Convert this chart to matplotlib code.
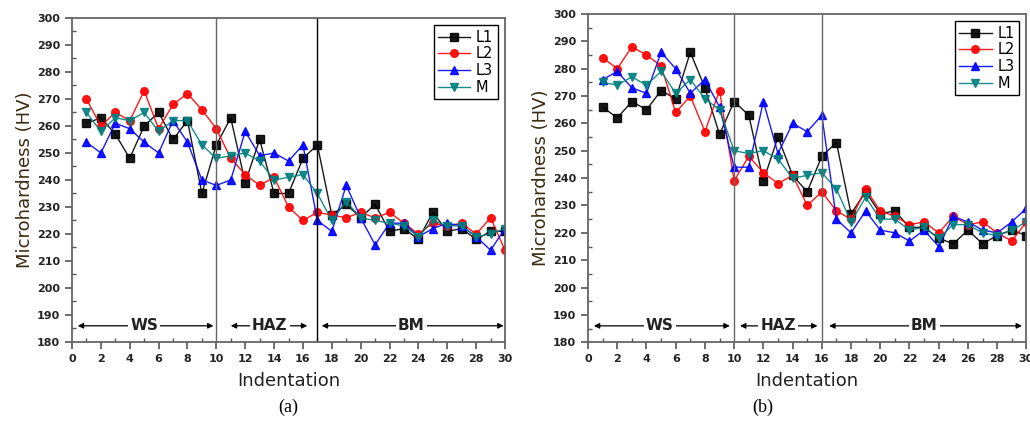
import numpy as np
import matplotlib
matplotlib.use('Agg')
import matplotlib.pyplot as plt
from matplotlib.ticker import MultipleLocator

# indentation positions
x = np.arange(1, 31)

# panel (a)
a_L1 = [261, 263, 257, 248, 260, 265, 255, 262, 235, 253, 263, 239, 255, 235, 235,
        248, 253, 227, 231, 226, 231, 221, 222, 218, 228, 221, 222, 218, 221, 221]
a_L2 = [270, 260, 265, 262, 273, 259, 268, 272, 266, 259, 248, 242, 238, 241, 230,
        225, 228, 227, 226, 228, 226, 228, 224, 220, 224, 223, 224, 220, 226, 214]
a_L3 = [254, 250, 261, 259, 254, 250, 262, 254, 240, 238, 240, 258, 249, 250, 247,
        253, 225, 221, 238, 226, 216, 224, 224, 219, 222, 224, 223, 219, 214, 222]
a_M = [265, 258, 263, 262, 265, 258, 262, 262, 253, 248, 249, 250, 247, 240, 241,
       242, 235, 225, 232, 226, 225, 224, 223, 219, 225, 223, 223, 219, 220, 222]

# panel (b)
b_L1 = [266, 262, 268, 265, 272, 269, 286, 273, 256, 268, 263, 239, 255, 241, 235,
        248, 253, 227, 235, 227, 228, 222, 222, 218, 216, 221, 216, 219, 221, 219]
b_L2 = [284, 280, 288, 285, 281, 264, 270, 257, 272, 239, 248, 242, 238, 241, 230,
        235, 228, 225, 236, 228, 226, 223, 224, 220, 226, 223, 224, 220, 217, 224]
b_L3 = [276, 279, 273, 271, 286, 280, 271, 276, 266, 244, 244, 268, 249, 260, 257,
        263, 225, 220, 228, 221, 220, 217, 221, 215, 226, 224, 221, 220, 224, 229]
b_M = [275, 274, 277, 274, 279, 271, 276, 269, 265, 250, 249, 250, 247, 240, 241,
       242, 236, 224, 233, 225, 225, 221, 222, 218, 223, 223, 220, 219, 221, 224]

labels = ['L1', 'L2', 'L3', 'M']
colors = ['black', 'red', 'blue', '#008080']
markers = ['s', 'o', '^', 'v']

txt = '#222222'

fig = plt.figure(figsize=(10.3, 4.22), dpi=100)
ax_a = fig.add_axes([0.0699, 0.1896, 0.4204, 0.7678])
ax_b = fig.add_axes([0.5709, 0.1889, 0.4256, 0.778])


def draw(ax, series, bounds, zones):
    for y, lab, c, m in zip(series, labels, colors, markers):
        ax.plot(x, y, color=c, marker=m, markersize=5.5, linewidth=1.0, label=lab,
                alpha=0.9)
    for b, col in bounds:
        ax.axvline(b, color=col, linewidth=1.0)
    ax.set_xlim(0, 30)
    ax.set_ylim(180, 300)
    ax.xaxis.set_major_locator(MultipleLocator(2))
    ax.xaxis.set_minor_locator(MultipleLocator(1))
    ax.yaxis.set_major_locator(MultipleLocator(10))
    ax.yaxis.set_minor_locator(MultipleLocator(5))
    ax.tick_params(which='major', direction='out', length=5, width=1.2, color='#555555',
                   labelsize=8, labelcolor=txt)
    ax.tick_params(which='minor', direction='in', length=3, width=1.0, color='#555555')
    for t in ax.get_xticklabels() + ax.get_yticklabels():
        t.set_fontweight('bold')
    for s in ax.spines.values():
        s.set_color('#666666')
        s.set_linewidth(1.3)
    ax.set_xlabel('Indentation', fontsize=13, color=txt, labelpad=6)
    ax.set_ylabel('Microhardness (HV)', fontsize=13, color='#3a2a10', labelpad=2)
    for x0, x1, xt, name in zones:
        ax.annotate('', xy=(x0, 186), xytext=(x1, 186),
                    arrowprops=dict(arrowstyle='<|-|>', color='black', lw=0.9,
                                    mutation_scale=8, shrinkA=0, shrinkB=0))
        ax.text(xt, 186, name, ha='center', va='center', fontsize=11,
                fontweight='bold', color=txt,
                bbox=dict(facecolor='white', edgecolor='none', pad=1.5))
    leg = ax.legend(loc='upper right', fontsize=10.5, handlelength=2.2,
                    labelspacing=0.12, borderpad=0.3, handletextpad=0.4,
                    fancybox=False, framealpha=1, borderaxespad=0.5)
    leg.get_frame().set_edgecolor('black')
    leg.get_frame().set_linewidth(1.0)


draw(ax_a, [a_L1, a_L2, a_L3, a_M], [(10, '#666666'), (17, 'black')],
     [(0.4, 9.8, 5.0, 'WS'), (11.0, 16.3, 13.7, 'HAZ'), (17.3, 29.9, 23.5, 'BM')])
draw(ax_b, [b_L1, b_L2, b_L3, b_M], [(10, '#666666'), (16, '#666666')],
     [(0.4, 9.7, 4.9, 'WS'), (10.4, 15.7, 13.0, 'HAZ'), (16.5, 29.7, 23.0, 'BM')])

fig.text(0.28, 0.035, '(a)', ha='center', va='center', fontsize=13,
         family='Liberation Serif')
fig.text(0.741, 0.035, '(b)', ha='center', va='center', fontsize=13,
         family='Liberation Serif')

fig.savefig('out.png', dpi=100)
